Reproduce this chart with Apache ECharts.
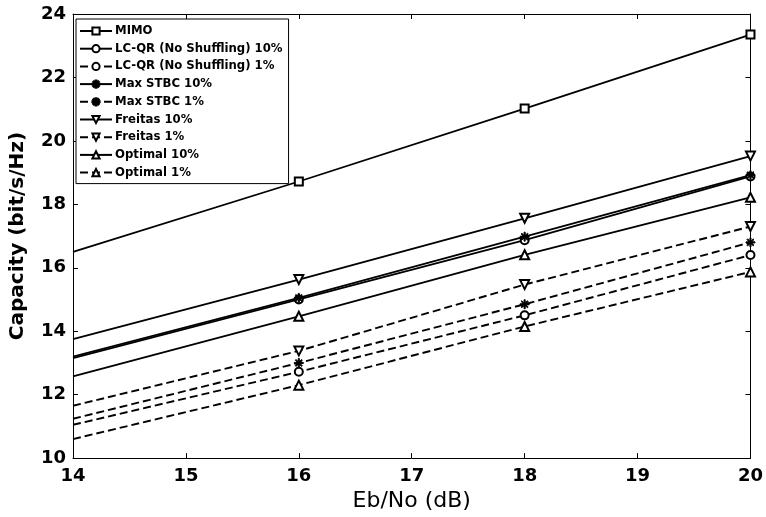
<!DOCTYPE html>
<html><head><meta charset="utf-8">
<script src="https://cdn.jsdelivr.net/npm/echarts@6/dist/echarts.min.js"></script>
<style>html,body{margin:0;padding:0;background:#fff}#c{width:766px;height:517px}</style>
</head><body><div id="c"></div>
<script>
const xValues = [14, 16, 18, 20];
const xTicks = [14, 15, 16, 17, 18, 19, 20];
const yTicks = [10, 12, 14, 16, 18, 20, 22, 24];
const seriesNames = ['MIMO','LC-QR (No Shuffling) 10%','LC-QR (No Shuffling) 1%','Max STBC 10%','Max STBC 1%','Freitas 10%','Freitas 1%','Optimal 10%','Optimal 1%'];
const mimo      = [16.5, 18.72, 21.02, 23.35];
const lcqr10    = [13.15, 15.0, 16.87, 18.88];
const lcqr1     = [11.05, 12.72, 14.5, 16.4];
const maxstbc10 = [13.2, 15.05, 16.98, 18.92];
const maxstbc1  = [11.24, 13.0, 14.85, 16.8];
const freitas10 = [13.75, 15.63, 17.56, 19.52];
const freitas1  = [11.65, 13.38, 15.47, 17.3];
const optimal10 = [12.58, 14.47, 16.41, 18.22];
const optimal1  = [10.6, 12.3, 14.15, 15.87];

const star = 'path://M-0.6,-5L0.6,-5L0.6,5L-0.6,5Z M-5,-0.6L5,-0.6L5,0.6L-5,0.6Z M-3.9,-3.1L-3.1,-3.9L3.9,3.1L3.1,3.9Z M3.1,-3.9L3.9,-3.1L-3.1,3.9L-3.9,3.1Z';
const defs = [
  [mimo, 'emptyRect', 0, false, 8],
  [lcqr10, 'emptyCircle', 0, false, 8],
  [lcqr1, 'emptyCircle', 0, true, 8],
  [maxstbc10, star, 0, false, 9],
  [maxstbc1, star, 0, true, 9],
  [freitas10, 'emptyTriangle', 180, false, 9],
  [freitas1, 'emptyTriangle', 180, true, 9],
  [optimal10, 'emptyTriangle', 0, false, 9],
  [optimal1, 'emptyTriangle', 0, true, 9]
];
const font = 'DejaVu Sans, sans-serif';
const series = defs.map((d, i) => ({
  name: seriesNames[i],
  type: 'line',
  symbol: d[1],
  symbolRotate: d[2],
  symbolSize: d[4],
  showAllSymbol: true,
  clip: false,
  animation: false,
  z: 3,
  color: '#000',
  lineStyle: { color: '#000', width: d[3] ? 1.9 : 1.8, type: d[3] ? [8, 4] : 'solid' },
  itemStyle: { color: '#000', borderColor: '#000', borderWidth: 1 },
  emphasis: { disabled: true },
  data: d[0].map((v, k) => k === 0 ? { value: [xValues[k], v], symbol: 'none' } : [xValues[k], v])
}));
const axisCommon = {
  axisLine: { show: true, lineStyle: { color: '#000', width: 1 } },
  axisTick: { show: true, inside: true, length: 5, lineStyle: { color: '#000' } },
  splitLine: { show: false }
};
const chart = echarts.init(document.getElementById('c'));
chart.setOption({
  backgroundColor: '#fff',
  animation: false,
  grid: { left: 70, right: 14, top: 14, bottom: 54 },
  legend: {
    left: 76, top: 19, orient: 'vertical',
    itemWidth: 32, itemHeight: 9, itemGap: 5.7,
    padding: [6, 6, 5, 3],
    backgroundColor: '#fff', borderColor: '#000', borderWidth: 1,
    textStyle: { fontFamily: font, fontWeight: 'bold', fontSize: 11.7, color: '#000', padding: [0, 0, 0, -2] },
    data: seriesNames
  },
  xAxis: [
    Object.assign({ type: 'value', min: 14, max: 20, interval: 1, position: 'bottom',
      name: 'Eb/No (dB)', nameLocation: 'middle', nameGap: 29,
      nameTextStyle: { fontFamily: font, fontSize: 22, color: '#000' },
      axisLabel: { fontFamily: font, fontWeight: 'bold', fontSize: 18, color: '#000', margin: 9,
        formatter: v => xTicks.includes(v) ? String(v) : '' } }, axisCommon),
    Object.assign({ type: 'value', min: 14, max: 20, interval: 1, position: 'top', axisLabel: { show: false } }, axisCommon)
  ],
  yAxis: [
    Object.assign({ type: 'value', min: 10, max: 24, interval: 2, position: 'left',
      name: 'Capacity (bit/s/Hz)', nameLocation: 'middle', nameGap: 45,
      nameTextStyle: { fontFamily: font, fontWeight: 'bold', fontSize: 20, color: '#000' },
      axisLabel: { fontFamily: font, fontWeight: 'bold', fontSize: 18, color: '#000', margin: 7,
        formatter: v => yTicks.includes(v) ? String(v) : '' } }, axisCommon),
    Object.assign({ type: 'value', min: 10, max: 24, interval: 2, position: 'right', axisLabel: { show: false } }, axisCommon)
  ],
  series: series
});
</script></body></html>
